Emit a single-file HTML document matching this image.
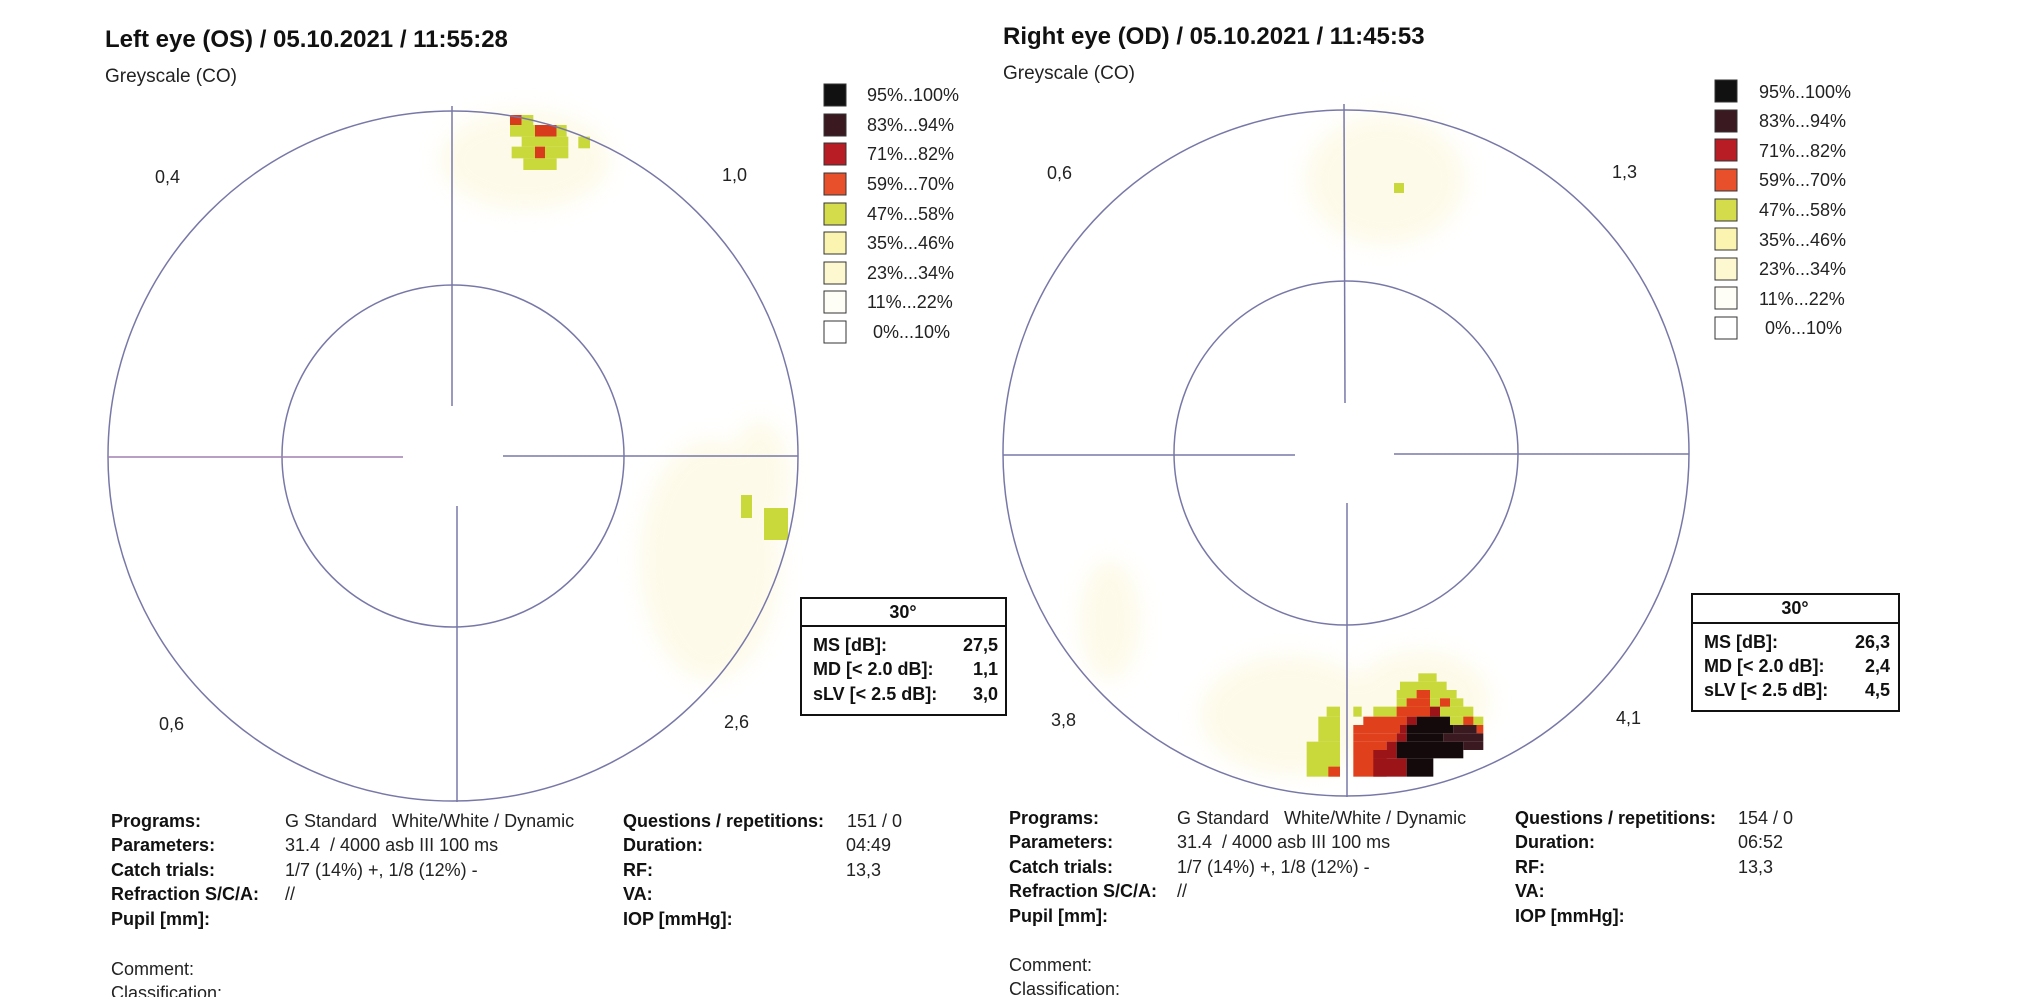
<!DOCTYPE html>
<html><head><meta charset="utf-8"><style>
body{margin:0;background:#fff;}
svg{display:block;font-family:"Liberation Sans",Arial,sans-serif;}
.t{font-size:24px;font-weight:bold;fill:#111}
.s{font-size:19px;fill:#222}
.l{font-size:18px;fill:#222}
.b{font-size:18px;font-weight:bold;fill:#111}
.n{font-size:18px;fill:#222}
</style></head><body>
<svg width="2020" height="997" viewBox="0 0 2020 997" xmlns="http://www.w3.org/2000/svg">
<defs>
<filter id="bl"><feGaussianBlur stdDeviation="10"/></filter>
</defs>
<!-- LEFT -->
<text class="t" x="105" y="47">Left eye (OS) / 05.10.2021 / 11:55:28</text>
<text class="s" x="105" y="82">Greyscale (CO)</text>
<g filter="url(#bl)" fill="#fcf6d4" opacity="0.5">
<ellipse cx="525" cy="160" rx="85" ry="50"/>
<ellipse cx="710" cy="560" rx="70" ry="120"/>
<ellipse cx="760" cy="480" rx="30" ry="60"/>
</g>
<g transform="translate(490,100) scale(0.3333)">
<rect x="60" y="45" width="35" height="30" fill="#d83a1c"/><rect x="95" y="45" width="35" height="30" fill="#c9d83a"/>
<rect x="60" y="75" width="75" height="35" fill="#c9d83a"/><rect x="135" y="75" width="65" height="35" fill="#d83a1c"/><rect x="200" y="75" width="30" height="35" fill="#c9d83a"/>
<rect x="95" y="110" width="140" height="30" fill="#c9d83a"/><rect x="265" y="110" width="35" height="35" fill="#c9d83a"/>
<rect x="65" y="140" width="70" height="35" fill="#c9d83a"/><rect x="135" y="140" width="30" height="35" fill="#d83a1c"/><rect x="165" y="140" width="70" height="35" fill="#c9d83a"/>
<rect x="100" y="175" width="100" height="35" fill="#c9d83a"/>
</g>
<rect x="741" y="495" width="11" height="23" fill="#c9d83a"/>
<rect x="764" y="508" width="24" height="32" fill="#c9d83a"/>
<g fill="none" stroke="#7878a8" stroke-width="1.5">
<circle cx="453" cy="456" r="345"/>
<circle cx="453" cy="456" r="171"/>
<line x1="108" y1="457" x2="403" y2="457" stroke="#a080b0"/>
<line x1="503" y1="456" x2="798" y2="456"/>
<line x1="452" y1="106" x2="452" y2="406"/>
<line x1="457" y1="506" x2="457" y2="802"/>
</g>
<text class="l" x="155" y="183">0,4</text>
<text class="l" x="722" y="181">1,0</text>
<text class="l" x="159" y="730">0,6</text>
<text class="l" x="724" y="728">2,6</text>
<g stroke="#333" stroke-width="1">
<rect x="824" y="84" width="22" height="22" fill="#111"/>
<rect x="824" y="114" width="22" height="22" fill="#3a1a20"/>
<rect x="824" y="143" width="22" height="22" fill="#b81c24"/>
<rect x="824" y="173" width="22" height="22" fill="#e8502c"/>
<rect x="824" y="203" width="22" height="22" fill="#d4dc4c"/>
<rect x="824" y="232" width="22" height="22" fill="#fbf4b0"/>
<rect x="824" y="262" width="22" height="22" fill="#fdf8d0"/>
<rect x="824" y="291" width="22" height="22" fill="#fffef6"/>
<rect x="824" y="321" width="22" height="22" fill="#fff"/>
</g>
<g class="l">
<text x="867" y="101">95%..100%</text><text x="867" y="131">83%...94%</text><text x="867" y="160">71%...82%</text>
<text x="867" y="190">59%...70%</text><text x="867" y="220">47%...58%</text><text x="867" y="249">35%...46%</text>
<text x="867" y="279">23%...34%</text><text x="867" y="308">11%...22%</text><text x="873" y="338">0%...10%</text>
</g>
<rect x="801" y="598" width="205" height="117" fill="none" stroke="#111" stroke-width="2"/>
<line x1="801" y1="626" x2="1006" y2="626" stroke="#111" stroke-width="2"/>
<text class="b" x="903" y="618" text-anchor="middle">30°</text>
<text class="b" x="813" y="651">MS [dB]:</text><text class="b" x="998" y="651" text-anchor="end">27,5</text>
<text class="b" x="813" y="675">MD [&lt; 2.0 dB]:</text><text class="b" x="998" y="675" text-anchor="end">1,1</text>
<text class="b" x="813" y="700">sLV [&lt; 2.5 dB]:</text><text class="b" x="998" y="700" text-anchor="end">3,0</text>
<g>
<text class="b" x="111" y="827">Programs:</text><text class="b" x="111" y="851">Parameters:</text><text class="b" x="111" y="876">Catch trials:</text><text class="b" x="111" y="900">Refraction S/C/A:</text><text class="b" x="111" y="925">Pupil [mm]:</text>
<text class="n" x="285" y="827">G Standard&#160;&#160; White/White / Dynamic</text><text class="n" x="285" y="851">31.4&#160; / 4000 asb III 100 ms</text><text class="n" x="285" y="876">1/7 (14%) +, 1/8 (12%) -</text><text class="n" x="285" y="900">//</text>
<text class="b" x="623" y="827">Questions / repetitions:</text><text class="b" x="623" y="851">Duration:</text><text class="b" x="623" y="876">RF:</text><text class="b" x="623" y="900">VA:</text><text class="b" x="623" y="925">IOP [mmHg]:</text>
<text class="n" x="847" y="827">151 / 0</text><text class="n" x="846" y="851">04:49</text><text class="n" x="846" y="876">13,3</text>
<text class="n" x="111" y="975">Comment:</text><text class="n" x="111" y="999">Classification:</text>
</g>

<!-- RIGHT -->
<text class="t" x="1003" y="44">Right eye (OD) / 05.10.2021 / 11:45:53</text>
<text class="s" x="1003" y="79">Greyscale (CO)</text>
<g filter="url(#bl)" fill="#fcf6d4" opacity="0.5">
<ellipse cx="1385" cy="180" rx="80" ry="65"/>
<ellipse cx="1290" cy="715" rx="90" ry="60"/>
<ellipse cx="1420" cy="700" rx="70" ry="50"/>
<ellipse cx="1110" cy="620" rx="30" ry="60"/>
</g>
<rect x="1394" y="183" width="10" height="10" fill="#c9d83a"/>
<g transform="translate(1290,670) scale(0.3333)">
<g fill="#c9d83a">
<rect x="385" y="10" width="55" height="25"/><rect x="330" y="35" width="140" height="25"/>
<rect x="320" y="60" width="180" height="25"/><rect x="320" y="85" width="200" height="25"/>
<rect x="190" y="110" width="25" height="30"/><rect x="250" y="110" width="300" height="30"/>
<rect x="480" y="140" width="100" height="25"/>
<rect x="110" y="110" width="40" height="30"/><rect x="85" y="140" width="65" height="75"/><rect x="50" y="215" width="100" height="105"/>
</g>
<g fill="#e0401c">
<rect x="380" y="60" width="40" height="25"/><rect x="350" y="85" width="70" height="25"/><rect x="450" y="85" width="30" height="25"/>
<rect x="320" y="110" width="100" height="30"/><rect x="220" y="140" width="130" height="25"/><rect x="520" y="140" width="30" height="25"/>
<rect x="190" y="165" width="140" height="25"/><rect x="560" y="165" width="20" height="25"/><rect x="190" y="190" width="130" height="25"/>
<rect x="190" y="215" width="100" height="105"/><rect x="115" y="290" width="35" height="30"/>
</g>
<g fill="#9a1418">
<rect x="420" y="110" width="30" height="30"/><rect x="350" y="140" width="30" height="25"/><rect x="330" y="165" width="20" height="25"/>
<rect x="320" y="190" width="30" height="25"/><rect x="290" y="215" width="30" height="25"/><rect x="250" y="240" width="70" height="25"/>
<rect x="250" y="265" width="100" height="55"/>
</g>
<g fill="#140a0c">
<rect x="380" y="140" width="100" height="25"/><rect x="350" y="165" width="140" height="25"/><rect x="350" y="190" width="110" height="25"/>
<rect x="320" y="215" width="200" height="50"/><rect x="350" y="265" width="80" height="55"/>
</g>
<g fill="#3a1a20">
<rect x="490" y="165" width="70" height="25"/><rect x="460" y="190" width="120" height="25"/><rect x="520" y="215" width="60" height="25"/>
</g>
</g>
<g fill="none" stroke="#7878a8" stroke-width="1.5">
<circle cx="1346" cy="453" r="343"/>
<circle cx="1346" cy="453" r="172"/>
<line x1="1003" y1="455" x2="1295" y2="455"/>
<line x1="1394" y1="454" x2="1689" y2="454"/>
<line x1="1344" y1="104" x2="1345" y2="403"/>
<line x1="1347" y1="503" x2="1347" y2="797"/>
</g>
<text class="l" x="1047" y="179">0,6</text>
<text class="l" x="1612" y="178">1,3</text>
<text class="l" x="1051" y="726">3,8</text>
<text class="l" x="1616" y="724">4,1</text>
<g stroke="#333" stroke-width="1">
<rect x="1715" y="80" width="22" height="22" fill="#111"/>
<rect x="1715" y="110" width="22" height="22" fill="#3a1a20"/>
<rect x="1715" y="139" width="22" height="22" fill="#b81c24"/>
<rect x="1715" y="169" width="22" height="22" fill="#e8502c"/>
<rect x="1715" y="199" width="22" height="22" fill="#d4dc4c"/>
<rect x="1715" y="228" width="22" height="22" fill="#fbf4b0"/>
<rect x="1715" y="258" width="22" height="22" fill="#fdf8d0"/>
<rect x="1715" y="287" width="22" height="22" fill="#fffef6"/>
<rect x="1715" y="317" width="22" height="22" fill="#fff"/>
</g>
<g class="l">
<text x="1759" y="98">95%..100%</text><text x="1759" y="127">83%...94%</text><text x="1759" y="157">71%...82%</text>
<text x="1759" y="186">59%...70%</text><text x="1759" y="216">47%...58%</text><text x="1759" y="246">35%...46%</text>
<text x="1759" y="275">23%...34%</text><text x="1759" y="305">11%...22%</text><text x="1765" y="334">0%...10%</text>
</g>
<rect x="1692" y="594" width="207" height="117" fill="none" stroke="#111" stroke-width="2"/>
<line x1="1692" y1="623" x2="1899" y2="623" stroke="#111" stroke-width="2"/>
<text class="b" x="1795" y="614" text-anchor="middle">30°</text>
<text class="b" x="1704" y="648">MS [dB]:</text><text class="b" x="1890" y="648" text-anchor="end">26,3</text>
<text class="b" x="1704" y="672">MD [&lt; 2.0 dB]:</text><text class="b" x="1890" y="672" text-anchor="end">2,4</text>
<text class="b" x="1704" y="696">sLV [&lt; 2.5 dB]:</text><text class="b" x="1890" y="696" text-anchor="end">4,5</text>
<g>
<text class="b" x="1009" y="824">Programs:</text><text class="b" x="1009" y="848">Parameters:</text><text class="b" x="1009" y="873">Catch trials:</text><text class="b" x="1009" y="897">Refraction S/C/A:</text><text class="b" x="1009" y="922">Pupil [mm]:</text>
<text class="n" x="1177" y="824">G Standard&#160;&#160; White/White / Dynamic</text><text class="n" x="1177" y="848">31.4&#160; / 4000 asb III 100 ms</text><text class="n" x="1177" y="873">1/7 (14%) +, 1/8 (12%) -</text><text class="n" x="1177" y="897">//</text>
<text class="b" x="1515" y="824">Questions / repetitions:</text><text class="b" x="1515" y="848">Duration:</text><text class="b" x="1515" y="873">RF:</text><text class="b" x="1515" y="897">VA:</text><text class="b" x="1515" y="922">IOP [mmHg]:</text>
<text class="n" x="1738" y="824">154 / 0</text><text class="n" x="1738" y="848">06:52</text><text class="n" x="1738" y="873">13,3</text>
<text class="n" x="1009" y="971">Comment:</text><text class="n" x="1009" y="995">Classification:</text>
</g>
</svg>
</body></html>
